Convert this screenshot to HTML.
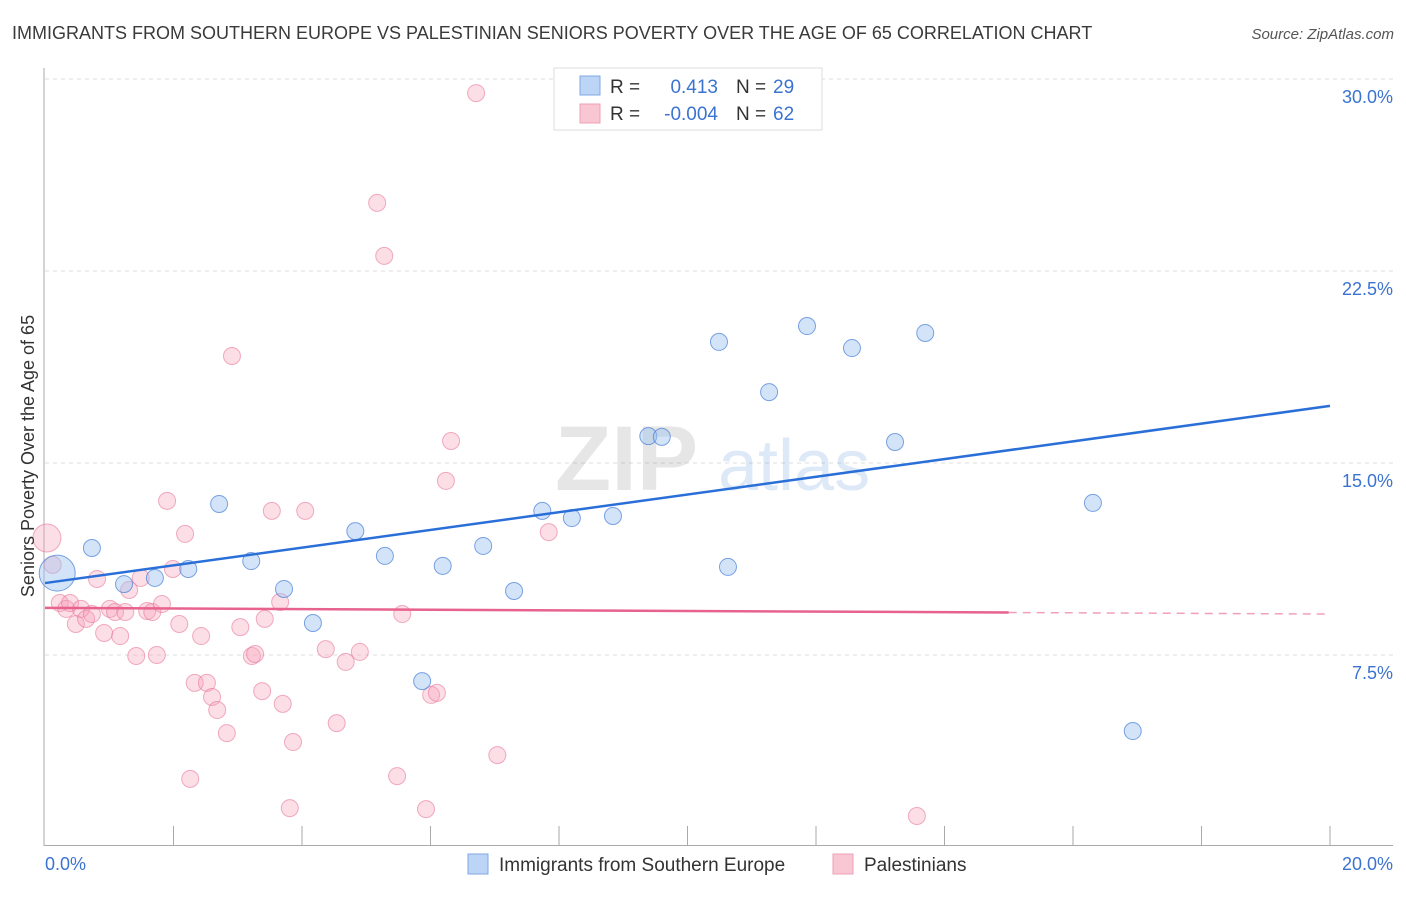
<!DOCTYPE html>
<html><head><meta charset="utf-8"><style>
body{margin:0;background:#fff;font-family:"Liberation Sans",sans-serif;}
svg text{font-family:"Liberation Sans",sans-serif;}
</style></head><body>
<svg id="chart" width="1406" height="892" viewBox="0 0 1406 892" xmlns="http://www.w3.org/2000/svg">
<text x="12" y="39" font-size="18" fill="#3a3a3a">IMMIGRANTS FROM SOUTHERN EUROPE VS PALESTINIAN SENIORS POVERTY OVER THE AGE OF 65 CORRELATION CHART</text>
<text x="1394" y="39" font-size="15" fill="#555" text-anchor="end" font-style="italic">Source: ZipAtlas.com</text>
<g id="grid"></g>
<g opacity="0.18">
<text x="555" y="490" font-size="92" font-family="Liberation Serif" fill="#777" font-weight="bold">ZIP</text>
<text x="718" y="490" font-size="72" fill="#4a8ad8">atlas</text>
</g>
<g id="axes"></g>
<g id="pink"></g>
<g id="blue"></g>
<g id="lines"></g>
<text transform="translate(34,456) rotate(-90)" font-size="18" fill="#333" text-anchor="middle">Seniors Poverty Over the Age of 65</text>
<g>
<rect x="554" y="68" width="268" height="62" fill="#fff" stroke="#ddd"/>
<rect x="580" y="76" width="20" height="19" fill="#bcd4f5" stroke="#7fa8e6"/>
<rect x="580" y="104" width="20" height="19" fill="#f9c6d4" stroke="#eea0b6"/>
<text x="610" y="93" font-size="19" fill="#333">R =</text>
<text x="718" y="93" font-size="19" fill="#3b73d1" text-anchor="end">0.413</text>
<text x="736" y="93" font-size="19" fill="#333">N =</text>
<text x="773" y="93" font-size="19" fill="#3b73d1">29</text>
<text x="610" y="120" font-size="19" fill="#333">R =</text>
<text x="718" y="120" font-size="19" fill="#3b73d1" text-anchor="end">-0.004</text>
<text x="736" y="120" font-size="19" fill="#333">N =</text>
<text x="773" y="120" font-size="19" fill="#3b73d1">62</text>
</g>
<g>
<rect x="468" y="854" width="20" height="20" fill="#bcd4f5" stroke="#7fa8e6"/>
<text x="499" y="871" font-size="19" fill="#333">Immigrants from Southern Europe</text>
<rect x="833" y="854" width="20" height="20" fill="#f9c6d4" stroke="#eea0b6"/>
<text x="864" y="871" font-size="19" fill="#333">Palestinians</text>
</g>
</svg>
<script>
const yTicks=[7.5,15,22.5,30];
const yTickLabels=["7.5%","15.0%","22.5%","30.0%"];
const xTickVals=[0,2,4,6,8,10,12,14,16,18,20];
const xEndLabels=["0.0%","20.0%"];
const blueX=[0.19,0.73,1.23,1.71,2.23,2.71,3.21,3.72,4.17,4.83,5.29,5.87,6.19,6.82,7.30,7.74,8.20,8.84,9.39,9.60,10.49,10.63,11.27,11.86,12.56,13.23,13.70,16.31,16.93];
const blueY=[10.70,11.68,10.27,10.51,10.86,13.40,11.17,10.08,8.75,12.34,11.37,6.48,10.98,11.76,10.0,13.13,12.85,12.93,16.05,16.02,19.73,10.94,17.77,20.35,19.49,15.82,20.08,13.44,4.53];
const pinkX=[0.03,0.12,0.23,0.33,0.39,0.48,0.56,0.64,0.73,0.81,0.92,1.01,1.09,1.17,1.25,1.31,1.42,1.49,1.59,1.67,1.74,1.82,1.90,1.99,2.09,2.18,2.26,2.33,2.43,2.52,2.60,2.68,2.83,2.91,3.04,3.22,3.27,3.38,3.53,3.66,3.70,3.42,3.81,3.86,4.05,4.37,4.54,4.68,4.90,5.17,5.28,5.48,5.56,5.93,6.01,6.10,6.24,6.32,6.71,7.04,7.84,13.57];
const pinkY=[12.07,11.02,9.53,9.30,9.53,8.71,9.30,8.91,9.10,10.47,8.36,9.30,9.18,8.24,9.18,10.04,7.46,10.51,9.22,9.18,7.50,9.49,13.52,10.86,8.71,12.23,2.66,6.41,8.24,6.41,5.86,5.35,4.45,19.18,8.59,7.46,7.54,6.09,13.13,9.57,5.59,8.91,1.52,4.10,13.13,7.73,4.84,7.23,7.62,25.16,23.09,2.77,9.10,1.48,5.94,6.02,14.30,15.86,29.45,3.59,12.30,1.21];
const blueTrend=[10.31,17.23];
const pinkTrend=[9.34,9.1];
const pinkSolidEnd=[15.0];

const X0=45,X1=1330,Y0=847,PX=25.6;
const sx=v=>X0+(X1-X0)*v/20;
const sy=v=>Y0-v*PX;
const NS="http://www.w3.org/2000/svg";
function mk(tag,parent,attrs){const e=document.createElementNS(NS,tag);for(const k in attrs)e.setAttribute(k,attrs[k]);parent.appendChild(e);return e;}
const grid=document.getElementById('grid'),axes=document.getElementById('axes');
yTicks.forEach((t,i)=>{
 const l=mk('line',grid,{x1:X0,x2:1393,y1:sy(t),y2:sy(t),stroke:'#ddd','stroke-dasharray':'4,4'});
 
 
 const tx=mk('text',axes,{x:1393,y:sy(t)+24,'font-size':18,fill:'#3b73d1','text-anchor':'end'});
 tx.textContent=yTickLabels[i];
 
 
});
const ya=mk('line',axes,{x1:44,x2:44,y1:68,y2:846,stroke:'#aaa'});


const xa=mk('line',axes,{x1:44,x2:1393,y1:845.5,y2:845.5,stroke:'#aaa'});


xTickVals.forEach(v=>{if(v===0)return;
 const t=mk('line',axes,{x1:sx(v),x2:sx(v),y1:826,y2:845,stroke:'#aaa'});
 
 
});
[[0,'start',45],[20,'end',1393]].forEach((d,i)=>{
 const t=mk('text',axes,{x:d[2],y:870,'font-size':18,fill:'#3b73d1','text-anchor':d[1]});
 t.textContent=xEndLabels[i];
 
 
});
const pg=document.getElementById('pink'),bg=document.getElementById('blue');
pinkX.forEach((v,i)=>{
 const c=mk('circle',pg,{cx:sx(v),cy:sy(pinkY[i]),r:i===0?14:8.5,fill:'rgba(245,160,185,0.35)',stroke:'rgba(232,120,155,0.6)','stroke-width':1});
 
 
});
blueX.forEach((v,i)=>{
 const c=mk('circle',bg,{cx:sx(v),cy:sy(blueY[i]),r:i===0?18:8.5,fill:'rgba(160,195,240,0.45)',stroke:'rgba(70,125,215,0.7)','stroke-width':1});
 
 
});
const lg=document.getElementById('lines');
const bl=mk('line',lg,{x1:sx(0),y1:sy(blueTrend[0]),x2:sx(20),y2:sy(blueTrend[1]),stroke:'#2a6fd8','stroke-width':2.5});


const pAt=v=>pinkTrend[0]+(pinkTrend[1]-pinkTrend[0])*v/20;
const pl=mk('line',lg,{x1:sx(0),y1:sy(pinkTrend[0]),x2:sx(pinkSolidEnd[0]),y2:sy(pAt(pinkSolidEnd[0])),stroke:'#e8628e','stroke-width':2.5});


const pd=mk('line',lg,{x1:sx(pinkSolidEnd[0]),y1:sy(pAt(pinkSolidEnd[0])),x2:sx(20),y2:sy(pinkTrend[1]),stroke:'#f0a0b8','stroke-width':1.5,'stroke-dasharray':'8,6'});


</script>
</body></html>
